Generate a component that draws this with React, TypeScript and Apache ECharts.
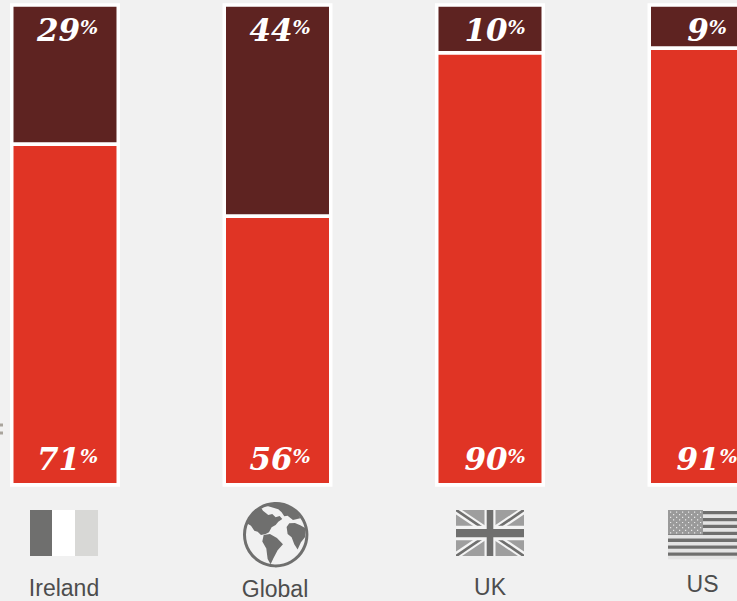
import React, { useEffect, useRef } from "react";
import * as echarts from "echarts";

const categories = ["Ireland", "Global", "UK", "US"];
const lowerShare = [71, 56, 90, 91];
const upperShare = [29, 44, 10, 9];
const frameShare = [100, 100, 100, 100];
const labelNudge = [2.5, 2.5, 5, 4.5];
const nameTokens = ["a", "b", "c", "d"];

const RED = "#e03425";
const MAROON = "#5e2321";
const PAGE = "#f1f1f1";
const ICON = "#6f6f6e";

const GLOBE_LAND =
  "M44 66 L62 50 L78 38 L84 47 L100 60 L112 57 L122 67 L134 63 L142 72 L130 80 L122 90 L110 97 L102 112 L92 117 L78 120 L68 110 L58 107 L48 92 L34 84 Z " +
  "M88 31 L122 22 L150 26 L172 38 L188 55 L196 70 L174 75 L158 62 L148 64 L140 52 L130 43 L105 35 Z " +
  "M163 85 L180 84 L196 91 L212 100 L210 127 L198 142 L188 164 L178 148 L170 127 L158 117 L155 96 Z " +
  "M86 120 L105 117 L126 129 L144 148 L128 166 L115 191 L107 208 L98 192 L94 161 L82 140 Z";
echarts.graphic.registerShape("globeLand", echarts.graphic.extendPath(GLOBE_LAND as any, {}) as any);

function irelandFlag() {
  return [
    { type: "rect", shape: { x: 30, y: 510, width: 22, height: 46 }, style: { fill: ICON } },
    { type: "rect", shape: { x: 52, y: 510, width: 23, height: 46 }, style: { fill: "#ffffff" } },
    { type: "rect", shape: { x: 75, y: 510, width: 23, height: 46 }, style: { fill: "#d8d8d6" } },
  ];
}

function globeIcon() {
  return [
    { type: "circle", shape: { cx: 275.7, cy: 534.7, r: 31.2 }, style: { fill: "none", stroke: ICON, lineWidth: 3 } },
    { type: "globeLand", x: 235, y: 495, scaleX: 1 / 3, scaleY: 1 / 3, style: { fill: ICON } },
  ];
}

function ukFlag() {
  const [x0, x1, y0, y1] = [456, 524, 510, 556];
  const band = (ax: number, ay: number, bx: number, by: number, dx: number, dy: number, fill: string) => ({
    type: "polygon",
    shape: {
      points: [
        [ax, ay],
        [ax + Math.sign(bx - ax) * dx, ay],
        [bx, by - Math.sign(by - ay) * dy],
        [bx, by],
        [bx - Math.sign(bx - ax) * dx, by],
        [ax, ay + Math.sign(by - ay) * dy],
      ],
    },
    style: { fill },
  });
  return [
    { type: "rect", shape: { x: x0, y: y0, width: x1 - x0, height: y1 - y0 }, style: { fill: "#9e9e9e" } },
    band(x0, y0, x1, y1, 6, 4.5, "#f4f4f4"),
    band(x1, y0, x0, y1, 6, 4.5, "#f4f4f4"),
    band(x0, y0, x1, y1, 2.5, 1.6, ICON),
    band(x1, y0, x0, y1, 2.5, 1.6, ICON),
    { type: "rect", shape: { x: 484.5, y: y0, width: 11, height: y1 - y0 }, style: { fill: "#f4f4f4" } },
    { type: "rect", shape: { x: x0, y: 525.8, width: x1 - x0, height: 14.5 }, style: { fill: "#f4f4f4" } },
    { type: "rect", shape: { x: 486.7, y: y0, width: 6.6, height: y1 - y0 }, style: { fill: ICON } },
    { type: "rect", shape: { x: x0, y: 529, width: x1 - x0, height: 8.3 }, style: { fill: ICON } },
  ];
}

function usFlag() {
  const parts: any[] = [];
  for (let i = 0; i < 7; i++) {
    const y = 511 + i * 6.9;
    parts.push({ type: "rect", shape: { x: 668, y: y + 3.3, width: 69, height: 3.6 }, style: { fill: "#e4e4e4" } });
    parts.push({ type: "rect", shape: { x: 668, y, width: 69, height: 3.3 }, style: { fill: ICON } });
  }
  parts.push({ type: "rect", shape: { x: 668, y: 510, width: 35, height: 24.5 }, style: { fill: "#9a9a9a" } });
  for (let row = 0; row < 9; row++) {
    for (let col = 0; col < 11; col++) {
      if ((row + col) % 2) continue;
      parts.push({
        type: "rect",
        shape: { x: 670 + col * 3, y: 511.5 + row * 2.6, width: 1.2, height: 1.2 },
        style: { fill: "#e8e8e8" },
      });
    }
  }
  return parts;
}

function edgeDots() {
  return [425, 433].map((y) => ({
    type: "rect",
    shape: { x: 0, y: y - 1.5, width: 3, height: 3 },
    style: { fill: "#a9a49c" },
  }));
}

const valueRich = {
  n: { fontFamily: "DejaVu Serif", fontStyle: "italic", fontWeight: "bold", fontSize: 31, color: "#ffffff" },
  p: {
    fontFamily: "DejaVu Serif",
    fontStyle: "italic",
    fontWeight: "bold",
    fontSize: 19,
    color: "#ffffff",
    padding: [0, 0, 6, 0],
  },
};

const nameBase = { fontFamily: "Liberation Sans", fontSize: 23, color: "#4d4d4d" };
const nameRich = {
  a: { ...nameBase, padding: [4, 2, 0, 0] },
  b: { ...nameBase, padding: [5, 5, 0, 0] },
  c: { ...nameBase, padding: [3, 0, 0, 0] },
  d: { ...nameBase, padding: [0, 0, 0, 0] },
};

function barSeries(name: string, values: number[], color: string, position: string, distance: number) {
  return {
    name,
    type: "bar",
    stack: "share",
    barWidth: 106.7,
    z: 3,
    itemStyle: { color, borderColor: "#ffffff", borderWidth: 1.85 },
    data: values.map((value, i) => ({
      value,
      label: {
        show: true,
        position,
        distance,
        offset: [labelNudge[i], 0],
        formatter: `{n|${value}}{p|%}`,
        rich: valueRich,
      },
    })),
  };
}

export default function App() {
  const ref = useRef<HTMLDivElement>(null);

  useEffect(() => {
    document.body.style.margin = "0";
    document.body.style.background = PAGE;
    const chart = echarts.init(ref.current!, null, { renderer: "svg" });
    chart.setOption({
      animation: false,
      backgroundColor: PAGE,
      grid: [
        { left: -41.25, width: 850, top: 4.85, height: 480, outerBoundsMode: "none" },
        { left: -41.25, width: 850, top: 3.3, height: 483.4, outerBoundsMode: "none" },
      ],
      xAxis: [
        {
          type: "category",
          data: categories,
          axisLine: { show: false },
          axisTick: { show: false },
          axisLabel: {
            margin: 87.6,
            interval: 0,
            formatter: (value: string) => `{${nameTokens[categories.indexOf(value)]}|${value}}`,
            rich: nameRich,
          },
        },
        { type: "category", gridIndex: 1, data: categories, show: false },
      ],
      yAxis: [
        { type: "value", min: 0, max: 100, show: false },
        { type: "value", gridIndex: 1, min: 0, max: 100, show: false },
      ],
      series: [
        {
          name: "Frame",
          type: "bar",
          xAxisIndex: 1,
          yAxisIndex: 1,
          barWidth: 110,
          z: 1,
          silent: true,
          itemStyle: { color: "#ffffff" },
          data: frameShare,
        },
        barSeries("Lower share", lowerShare, RED, "insideBottom", 10.5),
        barSeries("Upper share", upperShare, MAROON, "insideTop", 9.5),
      ],
      graphic: [...edgeDots(), ...irelandFlag(), ...globeIcon(), ...ukFlag(), ...usFlag()],
    });
    return () => chart.dispose();
  }, []);

  return <div ref={ref} style={{ width: 737, height: 601 }} />;
}
